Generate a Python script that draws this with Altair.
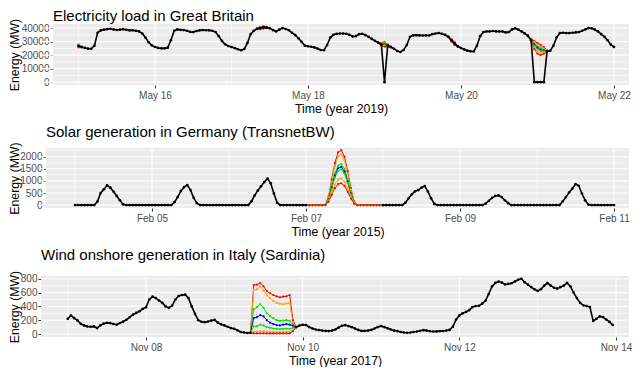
import altair as alt
import pandas as pd

FONT = "Liberation Sans"
Q_NAMES = ["red_hi", "orange_hi", "green_hi", "blue", "green_lo", "orange_lo", "red_lo"]
Q_COLORS = ["#FF0000", "#FFA500", "#00E600", "#0000FF"]

# ---------------- Panel 1: Electricity load in Great Britain (hourly from 2019-05-15 00:00) -------------
gb_load = [
    26700, 26000, 25300, 24800, 24700, 27000, 36500, 38300, 38800, 39200, 39500, 39000,
    38600, 38800, 39200, 38700, 38300, 38400, 38000, 37500, 36000, 33000, 29500, 27200,
    26000, 25300, 25000, 25000, 25500, 31000, 38000, 39000, 38700, 38500, 38000, 37200,
    37000, 37800, 38300, 38500, 38400, 38300, 38000, 37000, 34000, 30500, 28000, 26700,
    26000, 25200, 24300, 23600, 24500, 29000, 35500, 38000, 39400, 40000, 40500, 40500,
    39800, 38500, 37500, 38800, 40000, 39300, 38400, 36500, 34800, 32500, 29800, 27000,
    26500, 26200, 25700, 24800, 23800, 23600, 27500, 33000, 35000, 35800, 36000, 36000,
    35800, 35000, 33800, 34000, 35500, 35800, 34800, 33500, 32000, 30500, 29200, 28000,
    0, 27100, 26000, 24700, 23000, 22300, 23800, 27500, 33500, 34600, 34800, 34600,
    34500, 34600, 34500, 35500, 36000, 36300, 35800, 35000, 33500, 31000, 28500, 26500,
    25200, 24200, 23300, 22800, 22700, 27000, 34000, 37000, 37500, 37500, 37800, 37500,
    37500, 37500, 36800, 37000, 39000, 39800, 38800, 37500, 36000, 34200, 31000, 0,
    0, 0, 0, 22700, 23300, 27000, 33000, 36300, 36500, 36300, 36300, 36500,
    36800, 37000, 38000, 39000, 40000, 39800, 38800, 37500, 35500, 33500, 31000, 27800,
    26000,
]
gb_q_starts = [0, 56, 94, 116, 141]
gb_q_values = [
    [[27800, 26300], [27500, 26200], [27200, 26100], [26900, 26000], [26400, 25900], [26000, 25800], [25700, 25700]],
    [[39400, 40800, 41400, 41000], [39400, 40500, 41000, 40800], [39400, 40200, 40700, 40600],
     [39400, 40000, 40500, 40500], [39400, 39700, 40200, 40300], [39400, 39400, 39900, 40100],
     [39400, 39100, 39600, 39900]],
    [[29200, 28800, 29800, 28000, 26300], [29200, 28500, 29200, 27700, 26200], [29200, 28300, 28600, 27400, 26100],
     [29200, 28000, 28000, 27100, 26000], [29200, 27700, 27400, 26800, 25900], [29200, 27400, 26800, 26500, 25800],
     [29200, 27100, 26200, 26200, 25700]],
    [[33500, 32000, 29800, 26500], [33500, 31700, 29400, 26500], [33500, 31400, 29000, 26500],
     [33500, 31000, 28500, 26500], [33500, 30700, 28100, 26500], [33500, 30400, 27700, 26500],
     [33500, 30100, 27300, 26500]],
    [[34200, 32000, 30500, 29000, 27500, 26000, 23500], [34200, 31800, 29800, 27800, 26300, 25000, 23300],
     [34200, 31600, 28800, 26500, 25000, 24000, 23100], [34200, 31500, 28000, 25500, 24000, 23400, 22900],
     [34200, 31300, 27000, 24300, 23000, 22700, 22800], [34200, 31000, 25500, 22500, 21500, 21800, 22600],
     [34200, 30700, 24500, 21000, 20000, 21000, 22400]],
]
gb_xticks_h = [24, 72, 120, 168]
gb_xlabels = ["May 16", "May 18", "May 20", "May 22"]
gb_xminor_h = [0, 48, 96, 144]
gb_yticks = [0, 10000, 20000, 30000, 40000]
gb_yminor = [5000, 15000, 25000, 35000]

# ---------------- Panel 2: Solar generation in Germany (TransnetBW), hourly from 2015-02-04 00:00 ----------
solar = [
    0, 0, 0, 0, 0, 0, 0, 150, 500, 650, 820, 720, 560, 380, 200, 30,
    0, 0, 0, 0, 0, 0, 0, 0, 0, 0, 0, 0, 0, 0, 0,
    120, 330, 580, 740, 830, 620, 300, 80,
    0, 0, 0, 0, 0, 0, 0, 0, 0, 0, 0, 0, 0, 0, 0, 0,
    160, 400, 600, 780, 950, 1100, 900, 480, 100,
    0, 0, 0, 0, 0, 0, 0, 0, 0,
    None, None, None, None, None, None, None, None, None, None, None, None,
    None, None, None, None, None, None, None, None, None, None, None,
    0, 0, 0, 0, 0, 0, 0,
    100, 280, 450, 570, 620, 720, 790, 560, 280, 50,
    0, 0, 0, 0, 0, 0, 0, 0, 0, 0, 0, 0, 0, 0, 0,
    60, 180, 300, 380, 400, 330, 200, 80,
    0, 0, 0, 0, 0, 0, 0, 0, 0, 0, 0, 0, 0, 0, 0, 0,
    150, 330, 520, 680, 870, 800, 480, 200, 20,
    0, 0, 0, 0, 0, 0, 0, 0,
]
solar_q_starts = [72]
solar_q_values = [[
    [0, 0, 0, 0, 0, 0, 0, 350, 1050, 1750, 2180, 2270, 2000, 1400, 700, 150, 0, 0, 0, 0, 0, 0, 0, 0, 0],
    [0, 0, 0, 0, 0, 0, 0, 320, 970, 1620, 2010, 2100, 1850, 1290, 650, 140, 0, 0, 0, 0, 0, 0, 0, 0, 0],
    [0, 0, 0, 0, 0, 0, 0, 260, 790, 1310, 1630, 1700, 1500, 1050, 520, 110, 0, 0, 0, 0, 0, 0, 0, 0, 0],
    [0, 0, 0, 0, 0, 0, 0, 240, 730, 1220, 1520, 1580, 1390, 970, 480, 100, 0, 0, 0, 0, 0, 0, 0, 0, 0],
    [0, 0, 0, 0, 0, 0, 0, 220, 680, 1140, 1420, 1480, 1300, 910, 450, 90, 0, 0, 0, 0, 0, 0, 0, 0, 0],
    [0, 0, 0, 0, 0, 0, 0, 170, 510, 850, 1060, 1100, 970, 680, 340, 70, 0, 0, 0, 0, 0, 0, 0, 0, 0],
    [0, 0, 0, 0, 0, 0, 0, 140, 420, 700, 870, 900, 790, 550, 270, 60, 0, 0, 0, 0, 0, 0, 0, 0, 0],
]]
solar_xticks_h = [24, 72, 120, 168]
solar_xlabels = ["Feb 05", "Feb 07", "Feb 09", "Feb 11"]
solar_xminor_h = [0, 48, 96, 144]
solar_yticks = [0, 500, 1000, 1500, 2000]
solar_yminor = [250, 750, 1250, 1750, 2250]

# ---------------- Panel 3: Wind onshore generation in Italy (Sardinia), hourly from 2017-11-07 00:00 --------
wind = [
    220, 268, 230, 197, 148, 125, 110, 105, 110, 86, 125, 150,
    163, 158, 145, 134, 160, 180, 206, 245, 280, 306, 330, 365,
    388, 500, 541, 520, 485, 450, 400, 378, 412, 500, 550, 565,
    570, 520, 400, 292, 200, 178, 172, 180, 195, 205, 165, 140,
    125, 105, 86, 75, 55, 30, 22, 15, 18, None, None, None,
    None, None, None, None, None, None, None, None, None, None, 100, 122,
    135, 129, 100, 80, 65, 57, 50, 45, 43, 50, 65, 95,
    120, 129, 115, 100, 80, 60, 45, 45, 50, 60, 80, 100,
    115, 100, 82, 65, 50, 43, 30, 22, 19, 22, 30, 36,
    48, 57, 50, 40, 36, 38, 42, 43, 50, 60, 105, 210,
    270, 300, 320, 345, 390, 405, 410, 440, 480, 580, 690, 740,
    760, 745, 718, 725, 735, 760, 785, 800, 750, 715, 680, 647,
    625, 650, 700, 737, 700, 670, 657, 680, 700, 740, 690, 600,
    520, 450, 415, 405, 390, 190, 220, 255, 245, 210, 175, 130,
]
wind_q_starts = [56]
wind_q_values = [[
    [18, 709, 715, 737, 690, 620, 590, 565, 545, 532, 540, 546, 565, 200, 100],
    [18, 640, 650, 690, 630, 560, 520, 480, 450, 440, 430, 440, 450, 170, 100],
    [18, 360, 390, 430, 380, 300, 260, 230, 200, 190, 195, 200, 190, 140, 100],
    [18, 230, 245, 275, 255, 200, 165, 145, 130, 125, 135, 145, 135, 120, 100],
    [18, 110, 115, 135, 125, 100, 90, 80, 75, 70, 75, 80, 75, 90, 100],
    [18, 35, 35, 40, 38, 35, 30, 30, 28, 28, 30, 30, 32, 60, 100],
    [18, 8, 8, 10, 10, 8, 8, 8, 8, 8, 8, 10, 10, 40, 100],
]]
wind_xticks_h = [24, 72, 120, 168]
wind_xlabels = ["Nov 08", "Nov 10", "Nov 12", "Nov 14"]
wind_xminor_h = [0, 48, 96, 144]
wind_yticks = [0, 200, 400, 600, 800]
wind_yminor = [100, 300, 500, 700]

# ---- layout constants (page pixels) ----
ORIGIN = 40          # common left edge of the Vega plot groups
RIGHT = 628          # right edge of every grey panel
YTITLE_W = 13.3      # rotated y title + its padding
WIDTH = RIGHT - ORIGIN


def label_expr(ticks, labels):
    expr = "''"
    for t, l in reversed(list(zip(ticks, labels))):
        expr = f"datum.value == {t} ? '{l}' : ({expr})"
    return expr


def panel(title, xtitle, values, q_starts, q_values, xticks, xlabels, xminor, yticks, yminor,
          left, day0_px, px_per_h, ydom, height, title_offset):
    shift = left - ORIGIN
    xdom = [(ORIGIN - day0_px) / px_per_h, (RIGHT - day0_px) / px_per_h]
    yext = left - 8 - YTITLE_W

    rows, seg, gap = [], 0, True
    for h, v in enumerate(values):
        if v is None:
            gap = True
            continue
        if gap:
            seg += 1
            gap = False
        rows.append({"h": h, "v": v, "seg": seg})
    actual = pd.DataFrame(rows)

    qrows = []
    for k, (start, lines) in enumerate(zip(q_starts, q_values)):
        for name, line in zip(Q_NAMES, lines):
            for i, v in enumerate(line):
                qrows.append({"h": start + i, "v": v, "q": name.replace("_lo", "_hi"), "grp": f"{k}_{name}"})
    quant = pd.DataFrame(qrows)

    X = alt.X("h:Q", scale=alt.Scale(domain=xdom, nice=False, zero=False),
              axis=alt.Axis(values=xticks, labelExpr=label_expr(xticks, xlabels), title=xtitle,
                            grid=False, tickColor="#333333", tickSize=3, labelPadding=2, titlePadding=2,
                            titleX=(shift + WIDTH) / 2,
                            labelColor="#4D4D4D", labelFontSize=10, titleFontSize=12.3,
                            titleColor="black", titleFontWeight="normal", domain=False,
                            labelFont=FONT, titleFont=FONT))
    Y = alt.Y("v:Q", scale=alt.Scale(domain=ydom, nice=False, zero=False),
              axis=alt.Axis(values=yticks, format="d", title="Energy (MW)", offset=-shift,
                            grid=False, tickColor="#333333", tickSize=3, labelPadding=1, titlePadding=1,
                            minExtent=yext, maxExtent=yext,
                            labelColor="#4D4D4D", labelFontSize=10, titleFontSize=12.3,
                            titleColor="black", titleFontWeight="normal", domain=False,
                            labelFont=FONT, titleFont=FONT))

    panel_bg = pd.DataFrame({"h": [(left - day0_px) / px_per_h], "h2": [xdom[1]],
                             "v": [ydom[0]], "v2": [ydom[1]]})
    bg = alt.Chart(panel_bg).mark_rect(color="#EBEBEB").encode(x=X, x2="h2:Q", y=Y, y2="v2:Q")
    vminor = alt.Chart(pd.DataFrame({"h": xminor})).mark_rule(color="white", strokeWidth=0.55).encode(x=X)
    hminor = alt.Chart(pd.DataFrame({"v": yminor})).mark_rule(color="white", strokeWidth=0.55).encode(y=Y)
    vmajor = alt.Chart(pd.DataFrame({"h": xticks})).mark_rule(color="white", strokeWidth=1.1).encode(x=X)
    hmajor = alt.Chart(pd.DataFrame({"v": yticks})).mark_rule(color="white", strokeWidth=1.1).encode(y=Y)

    color = alt.Color("q:N", scale=alt.Scale(domain=Q_NAMES[:4], range=Q_COLORS), legend=None)
    qline = alt.Chart(quant).mark_line(strokeWidth=1).encode(x=X, y=Y, color=color, detail="grp:N")
    qpts = alt.Chart(quant).mark_circle(size=5, opacity=1).encode(x=X, y=Y, color=color)
    aline = alt.Chart(actual).mark_line(color="black", strokeWidth=1.6).encode(x=X, y=Y, detail="seg:N")
    apts = alt.Chart(actual).mark_circle(color="black", size=7, opacity=1).encode(x=X, y=Y)

    return alt.layer(bg, vminor, hminor, vmajor, hmajor, qline, qpts, aline, apts).properties(
        width=WIDTH, height=height,
        title=alt.TitleParams(title, anchor="start", frame="group", dx=shift, fontSize=15,
                              fontWeight="normal", font=FONT, color="black", offset=title_offset),
    )


p1 = panel("Electricity load in Great Britain", "Time (year 2019)", gb_load, gb_q_starts, gb_q_values,
           gb_xticks_h, gb_xlabels, gb_xminor_h, gb_yticks, gb_yminor,
           52, 77.5, 3.1875, [-2100, 43000], 61, -5.7)
p2 = panel("Solar generation in Germany (TransnetBW)", "Time (year 2015)", solar, solar_q_starts, solar_q_values,
           solar_xticks_h, solar_xlabels, solar_xminor_h, solar_yticks, solar_yminor,
           45, 74, 3.2083, [-120, 2360], 60, 1.8)
p3 = panel("Wind onshore generation in Italy (Sardinia)", "Time (year 2017)", wind, wind_q_starts, wind_q_values,
           wind_xticks_h, wind_xlabels, wind_xminor_h, wind_yticks, wind_yminor,
           40, 66.7, 3.2639, [-43, 840], 61, 7.3)

chart = alt.concat(p1, p2, p3, columns=1, spacing=9).properties(
    padding=0, background="white"
).configure(font=FONT).configure_view(strokeWidth=0)

chart.save("out.html", embed_options={"renderer": "svg", "actions": False})
